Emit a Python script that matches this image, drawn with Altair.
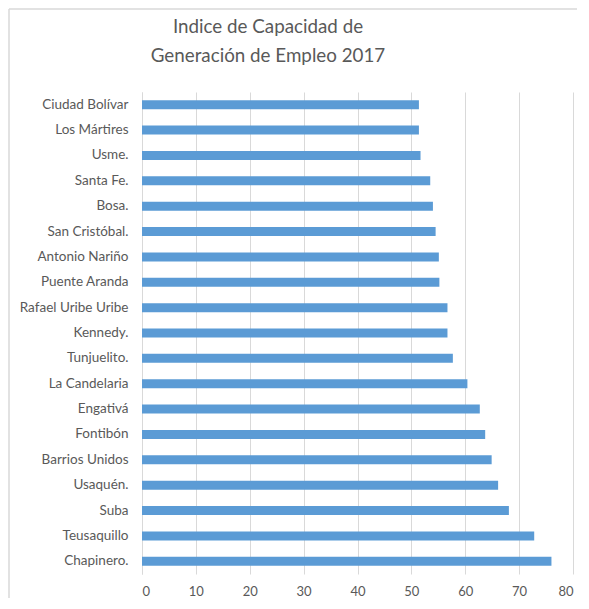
import altair as alt
import pandas as pd

localidades = [
    "Ciudad Bolívar", "Los Mártires", "Usme.", "Santa Fe.", "Bosa.",
    "San Cristóbal.", "Antonio Nariño", "Puente Aranda", "Rafael Uribe Uribe",
    "Kennedy.", "Tunjuelito.", "La Candelaria", "Engativá", "Fontibón",
    "Barrios Unidos", "Usaquén.", "Suba", "Teusaquillo", "Chapinero.",
]
indice = [
    51.4, 51.4, 51.7, 53.5, 54.0,
    54.5, 55.1, 55.2, 56.7,
    56.7, 57.7, 60.4, 62.7, 63.7,
    64.9, 66.1, 68.1, 72.8, 76.0,
]
x_ticks = [0, 10, 20, 30, 40, 50, 60, 70, 80]
title_lines = ["Indice de Capacidad de", "Generación de Empleo 2017"]

df = pd.DataFrame({"localidad": localidades, "indice": indice})

FONT = "Lato"
one = pd.DataFrame({"k": [0]})

bars = alt.Chart(df).mark_bar(size=9, color="#5B9BD5").encode(
    x=alt.X(
        "indice:Q",
        scale=alt.Scale(domain=[0, 80], nice=False),
        axis=alt.Axis(
            values=x_ticks, title=None, domain=False, ticks=False,
            grid=True, gridColor="#D9D9D9", gridWidth=1,
            labelColor="#595959", labelFontSize=13, labelFont=FONT,
            labelPadding=11,
        ),
    ),
    y=alt.Y(
        "localidad:N",
        sort=localidades,
        scale=alt.Scale(paddingInner=0, paddingOuter=0),
        axis=alt.Axis(
            title=None, ticks=False, domain=True, domainColor="#D9D9D9",
            labelColor="#595959", labelFontSize=13.5, labelFont=FONT,
            labelPadding=14, grid=False,
        ),
    ),
)

title1 = alt.Chart(one).mark_text(
    text=title_lines[0], font=FONT, fontSize=18.8, color="#595959",
    align="center", baseline="alphabetic", clip=False,
).encode(x=alt.value(126), y=alt.value(-59))
title2 = alt.Chart(one).mark_text(
    text=title_lines[1], font=FONT, fontSize=18.8, color="#595959",
    align="center", baseline="alphabetic", clip=False,
).encode(x=alt.value(126), y=alt.value(-30))

border_left = alt.Chart(one).mark_rule(
    color="#D9D9D9", strokeWidth=1.5, clip=False
).encode(x=alt.value(-133), y=alt.value(-83), y2=alt.value(520))
border_top = alt.Chart(one).mark_rule(
    color="#D9D9D9", strokeWidth=1.5, clip=False
).encode(x=alt.value(-133), x2=alt.value(440), y=alt.value(-83))

chart = alt.layer(bars, title1, title2, border_left, border_top).properties(
    width=431,
    height=482,
    autosize=alt.AutoSizeParams(type="none"),
    padding={"left": 134, "top": 84, "right": 4, "bottom": 24},
).configure_view(stroke=None)

chart.save("out.html", embed_options={"renderer": "svg", "actions": False})
